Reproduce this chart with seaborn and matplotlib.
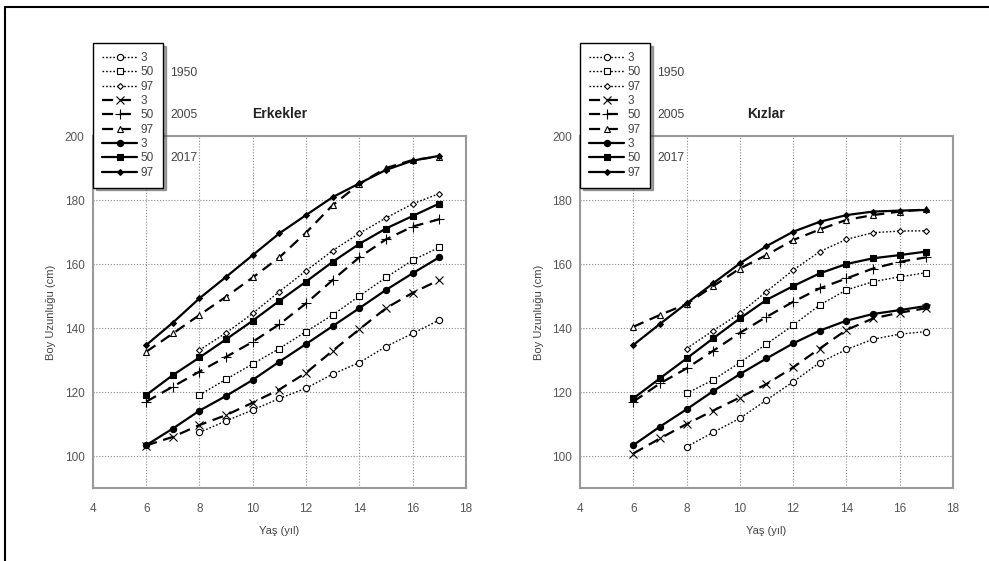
import numpy as np
import pandas as pd
import matplotlib
matplotlib.use("Agg")
import matplotlib.pyplot as plt
import seaborn as sns
from matplotlib.lines import Line2D

# ---------------- data ----------------
ages_all = [6, 7, 8, 9, 10, 11, 12, 13, 14, 15, 16, 17]
ages_1950 = [8, 9, 10, 11, 12, 13, 14, 15, 16, 17]

# Boys (Erkekler)
boys_1950_p3 = [107.4, 111.0, 114.4, 118.0, 121.2, 125.6, 129.2, 134.2, 138.3, 142.5]
boys_1950_p50 = [119.1, 124.0, 128.8, 133.6, 138.9, 144.1, 150.0, 155.8, 161.2, 165.2]
boys_1950_p97 = [133.1, 138.5, 144.6, 151.4, 157.9, 164.2, 169.6, 174.4, 178.8, 182.0]
boys_2005_p3 = [103.3, 106.0, 109.7, 112.8, 116.7, 120.8, 126.0, 132.9, 139.6, 146.2, 151.0, 155.0]
boys_2005_p50 = [117.0, 121.7, 126.4, 131.0, 135.7, 141.2, 147.7, 155.0, 162.1, 167.7, 171.7, 174.0]
boys_2005_p97 = [132.6, 138.3, 144.1, 149.8, 155.8, 162.1, 169.8, 178.4, 185.0, 190.0, 192.5, 193.6]
boys_2017_p3 = [103.4, 108.6, 114.2, 118.8, 123.8, 129.5, 135.0, 140.6, 146.2, 151.9, 157.1, 162.1]
boys_2017_p50 = [119.1, 125.3, 130.8, 136.5, 142.3, 148.5, 154.5, 160.7, 166.3, 171.1, 175.0, 178.9]
boys_2017_p97 = [134.7, 141.7, 149.3, 156.0, 162.8, 169.6, 175.3, 180.9, 185.2, 189.4, 192.3, 193.8]

# Girls (Kızlar)
girls_1950_p3 = [102.9, 107.4, 111.8, 117.5, 123.2, 129.2, 133.3, 136.5, 138.1, 138.9]
girls_1950_p50 = [119.6, 123.8, 129.2, 135.0, 140.9, 147.2, 151.9, 154.5, 156.0, 157.3]
girls_1950_p97 = [133.6, 139.2, 144.6, 151.4, 158.1, 163.9, 167.7, 169.8, 170.3, 170.4]
girls_2005_p3 = [100.8, 105.5, 110.0, 114.2, 118.3, 122.5, 127.7, 133.6, 139.4, 143.0, 144.8, 146.2]
girls_2005_p50 = [117.0, 122.7, 127.4, 132.9, 138.5, 143.5, 148.2, 152.4, 155.5, 158.6, 160.7, 162.1]
girls_2005_p97 = [140.4, 144.1, 147.5, 153.1, 158.6, 162.8, 167.5, 170.8, 173.8, 175.3, 176.4, 177.1]
girls_2017_p3 = [103.4, 109.2, 114.6, 120.3, 125.6, 130.5, 135.2, 139.2, 142.3, 144.4, 145.6, 146.9]
girls_2017_p50 = [118.0, 124.3, 130.5, 136.8, 143.0, 148.8, 153.1, 157.1, 160.0, 161.8, 162.8, 163.9]
girls_2017_p97 = [134.7, 141.3, 147.7, 154.0, 160.2, 165.6, 170.1, 173.2, 175.3, 176.4, 176.7, 176.9]

percentile_labels = ["3", "50", "97"]
year_labels = ["1950", "2005", "2017"]
x_ticks = [4, 6, 8, 10, 12, 14, 16, 18]
y_ticks = [100, 120, 140, 160, 180, 200]
titles = ["Erkekler", "Kızlar"]
x_label = "Yaş (yıl)"
y_label = "Boy Uzunluğu (cm)"

boys = {
    "1950": (ages_1950, [boys_1950_p3, boys_1950_p50, boys_1950_p97]),
    "2005": (ages_all, [boys_2005_p3, boys_2005_p50, boys_2005_p97]),
    "2017": (ages_all, [boys_2017_p3, boys_2017_p50, boys_2017_p97]),
}
girls = {
    "1950": (ages_1950, [girls_1950_p3, girls_1950_p50, girls_1950_p97]),
    "2005": (ages_all, [girls_2005_p3, girls_2005_p50, girls_2005_p97]),
    "2017": (ages_all, [girls_2017_p3, girls_2017_p50, girls_2017_p97]),
}

# ---------------- style ----------------
sns.set_theme(style="white")
plt.rcParams["font.family"] = ["Liberation Sans", "DejaVu Sans"]

year_style = {
    "1950": dict(linestyle=(0, (1.2, 1.4)), linewidth=1.0),
    "2005": dict(linestyle=(0, (5, 3)), linewidth=1.6),
    "2017": dict(linestyle="-", linewidth=1.6),
}
marker_style = {
    "1950": [dict(marker="o", markersize=4.5, markerfacecolor="white"),
             dict(marker="s", markersize=4.5, markerfacecolor="white"),
             dict(marker="D", markersize=3.0, markerfacecolor="white")],
    "2005": [dict(marker="x", markersize=6.0, markerfacecolor="white"),
             dict(marker="+", markersize=7.0, markerfacecolor="white"),
             dict(marker="^", markersize=4.5, markerfacecolor="white")],
    "2017": [dict(marker="o", markersize=4.5, markerfacecolor="black"),
             dict(marker="s", markersize=5.0, markerfacecolor="black"),
             dict(marker="D", markersize=3.0, markerfacecolor="black")],
}

fig = plt.figure(figsize=(9.89, 5.61), dpi=100)
ax_pos = [[0.094, 0.130, 0.377, 0.6275], [0.5865, 0.130, 0.377, 0.6275]]

for i, (data, title) in enumerate(zip([boys, girls], titles)):
    ax = fig.add_axes(ax_pos[i])
    handles, labels = [], []
    for year in year_labels:
        ages, series = data[year]
        for j, vals in enumerate(series):
            df = pd.DataFrame({"age": ages, "height": vals})
            sns.lineplot(data=df, x="age", y="height", ax=ax, color="black",
                         markeredgecolor="black", markeredgewidth=0.8,
                         legend=False, zorder=3,
                         **year_style[year], **marker_style[year][j])
            handles.append(ax.lines[-1])
            labels.append(percentile_labels[j])

    ax.set_xlim(4, 18)
    ax.set_ylim(90, 200)
    ax.set_xticks(x_ticks)
    ax.set_yticks(y_ticks)
    ax.grid(True, color="#888888", linestyle=(0, (1, 1.6)), linewidth=0.8)
    for s in ax.spines.values():
        s.set_color("#999999")
        s.set_linewidth(1.5)
    ax.tick_params(axis="both", length=0, labelsize=8.5, labelcolor="#555555", pad=6)
    ax.tick_params(axis="x", pad=11)
    ax.set_xlabel(x_label, fontsize=8, color="#444444", labelpad=8)
    ax.set_ylabel(y_label, fontsize=8, color="#444444", labelpad=6)

    leg = ax.legend(handles, labels, loc="upper left", bbox_to_anchor=(0.0, 1.264),
                    borderaxespad=0, fontsize=8.5, frameon=True, fancybox=False,
                    shadow=True, framealpha=1, edgecolor="black",
                    handlelength=3.0, handletextpad=0.3, labelspacing=0.2,
                    borderpad=0.75)
    leg.get_frame().set_linewidth(1.0)
    for t in leg.get_texts():
        t.set_color("#444444")

    for yl, yy in zip(year_labels, [1.179, 1.060, 0.9375]):
        ax.text(0.207, yy, yl, transform=ax.transAxes, fontsize=8.8,
                color="#444444", va="center", ha="left")
    ax.text(0.5, 1.0625, title, transform=ax.transAxes, fontsize=10,
            fontweight="bold", color="#222222", ha="center", va="center")

# figure border (top and left)
fig.add_artist(Line2D([5 / 989, 1.0], [1 - 7 / 561, 1 - 7 / 561],
                      transform=fig.transFigure, color="black", linewidth=1.5))
fig.add_artist(Line2D([5 / 989, 5 / 989], [0.0, 1 - 7 / 561],
                      transform=fig.transFigure, color="black", linewidth=1.5))

fig.savefig("out.png", dpi=100)
